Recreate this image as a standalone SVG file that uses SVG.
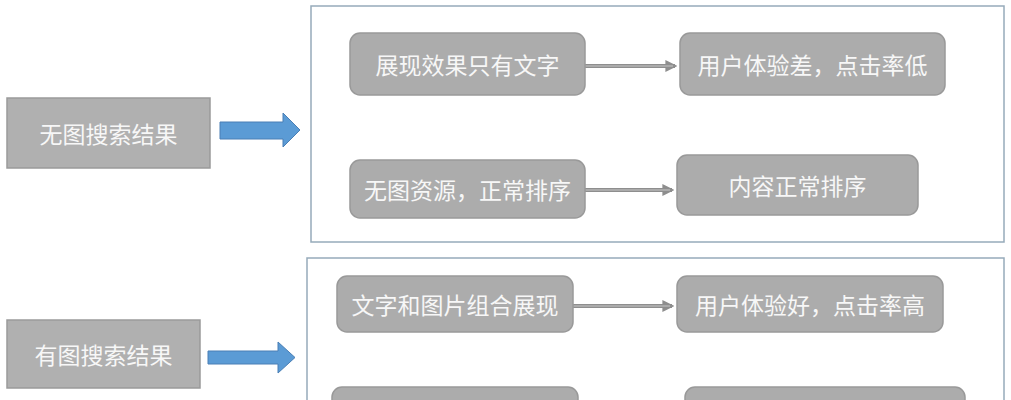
<svg xmlns="http://www.w3.org/2000/svg" width="1011" height="400" viewBox="0 0 1011 400">
<style>
.t{font-family:"Noto Sans CJK SC","Noto Sans CJK JP",sans-serif;font-size:23px;fill:#f7f7f7;text-anchor:middle;dominant-baseline:central}
.src{fill:#b0b0b0;stroke:#9a9a9a;stroke-width:1.5}
.nd{fill:#acacac;stroke:#999;stroke-width:1.5}
.frame{fill:#fff;stroke:#96abba;stroke-width:1.5}
.big{fill:#5b9bd5;stroke:#4a7fb5;stroke-width:1}
.cl{stroke:#8e8e8e;stroke-width:4;fill:none}
.ci{stroke:#b4b4b4;stroke-width:1.5;fill:none}
</style>
<defs>
<marker id="ah" viewBox="0 0 10 10" refX="8" refY="5" markerWidth="3" markerHeight="3" orient="auto" markerUnits="strokeWidth">
<path d="M0,0 L10,5 L0,10 z" fill="#8e8e8e"/>
</marker>
</defs>
<rect width="1011" height="400" fill="#fff"/>
<g id="frame1"><rect class="frame" x="311" y="6" width="693" height="236"/></g>
<g id="frame2"><rect class="frame" x="307" y="258" width="697" height="150"/></g>
<g id="connectors">
<path class="big" d="M220,122 H283 V113 L300,130 L283,147 V139 H220 Z"/>
<path class="big" d="M208,351 H278 V342 L295,357.5 L278,373 V364 H208 Z"/>
<line class="cl" x1="585" y1="66" x2="675" y2="66" marker-end="url(#ah)"/>
<line class="ci" x1="585" y1="66" x2="673" y2="66"/>
<line class="cl" x1="585" y1="190" x2="672" y2="190" marker-end="url(#ah)"/>
<line class="ci" x1="585" y1="190" x2="670" y2="190"/>
<line class="cl" x1="573" y1="306" x2="672" y2="306" marker-end="url(#ah)"/>
<line class="ci" x1="573" y1="306" x2="670" y2="306"/>
</g>
<g id="n-left1"><rect class="src" x="7" y="98" width="203" height="70"/><text class="t" x="108.5" y="133">无图搜索结果</text></g>
<g id="n-left2"><rect class="src" x="7" y="320" width="193" height="68"/><text class="t" x="103.5" y="354">有图搜索结果</text></g>
<g id="n-a1"><rect class="nd" x="350" y="33" width="235" height="62" rx="10"/><text class="t" x="467.5" y="64">展现效果只有文字</text></g>
<g id="n-b1"><rect class="nd" x="680" y="33" width="265" height="62" rx="10"/><text class="t" x="812.5" y="64">用户体验差，点击率低</text></g>
<g id="n-a2"><rect class="nd" x="350" y="160" width="235" height="58" rx="10"/><text class="t" x="467.5" y="189">无图资源，正常排序</text></g>
<g id="n-b2"><rect class="nd" x="677" y="155" width="241" height="60" rx="10"/><text class="t" x="797.5" y="185">内容正常排序</text></g>
<g id="n-c1"><rect class="nd" x="337" y="276" width="236" height="56" rx="10"/><text class="t" x="455" y="304">文字和图片组合展现</text></g>
<g id="n-d1"><rect class="nd" x="677" y="276" width="266" height="56" rx="10"/><text class="t" x="810" y="304">用户体验好，点击率高</text></g>
<g id="n-c2"><rect class="nd" x="332" y="387" width="246" height="40" rx="10"/></g>
<g id="n-d2"><rect class="nd" x="685" y="387" width="280" height="40" rx="10"/></g>
</svg>
